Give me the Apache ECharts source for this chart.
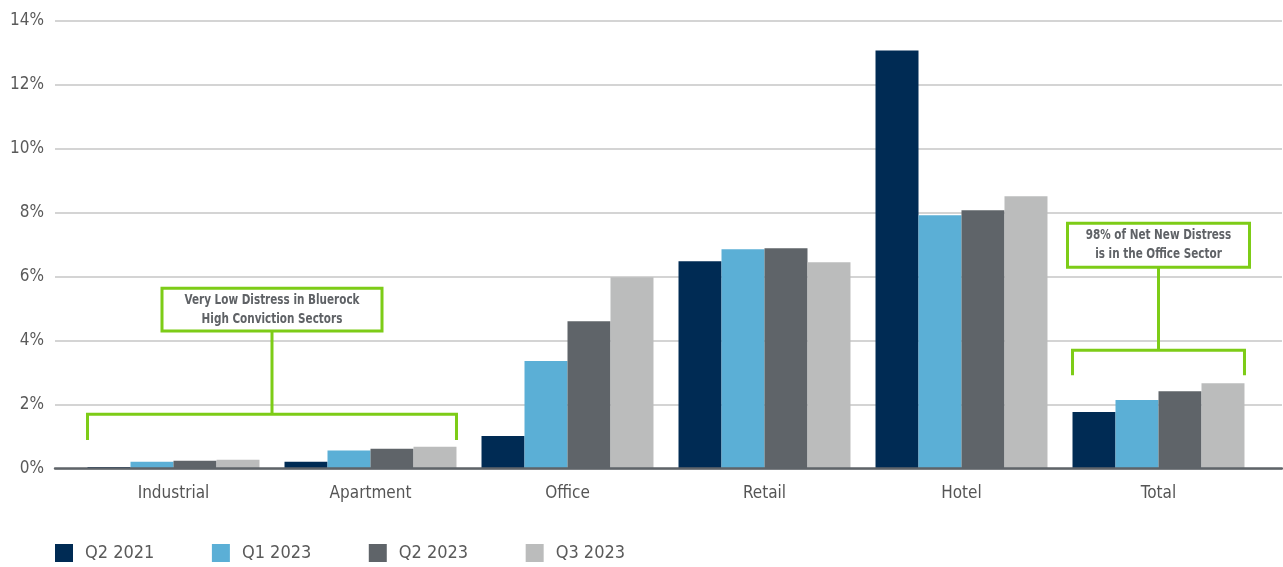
<!DOCTYPE html>
<html>
<head>
<meta charset="utf-8">
<script src="https://cdn.jsdelivr.net/npm/echarts@6/dist/echarts.min.js"></script>
<style>
html,body{margin:0;padding:0;background:#fff;}
#c{width:1283px;height:567px;}
</style>
</head>
<body>
<div id="c"></div>
<script>
const categories = ['Industrial', 'Apartment', 'Office', 'Retail', 'Hotel', 'Total'];
const seriesNames = ['Q2 2021', 'Q1 2023', 'Q2 2023', 'Q3 2023'];
const q2_2021 = [0.05, 0.21, 1.02, 6.48, 13.08, 1.77];
const q1_2023 = [0.21, 0.56, 3.36, 6.86, 7.92, 2.14];
const q2_2023 = [0.24, 0.62, 4.61, 6.89, 8.08, 2.42];
const q3_2023 = [0.27, 0.68, 5.98, 6.45, 8.52, 2.67];
const yTicks = [0, 2, 4, 6, 8, 10, 12, 14];
const colors = ['#002B54', '#5BAFD6', '#5F6469', '#BBBCBC'];
const annotations = [
  { text: 'Very Low Distress in Bluerock\nHigh Conviction Sectors', from: 0, to: 1, boxTop: 5.64, boxBottom: 4.30, bracket: 1.70, tick: 0.89, boxWidth: 220 },
  { text: '98% of Net New Distress\nis in the Office Sector', from: 5, to: 5, boxTop: 7.67, boxBottom: 6.30, bracket: 3.70, tick: 2.92, boxWidth: 182 }
];

const FONT = "'Liberation Sans Narrow', 'DejaVu Sans Condensed', sans-serif";
const GREEN = '#7DCC17';
const catGap = 0.127;

const chart = echarts.init(document.getElementById('c'));
const allData = [q2_2021, q1_2023, q2_2023, q3_2023];

chart.setOption({
  animation: false,
  color: colors,
  textStyle: { fontFamily: FONT },
  legend: {
    left: 50, top: 539,
    itemWidth: 18, itemHeight: 18, itemGap: 57.5,
    icon: 'rect',
    textStyle: { fontSize: 18, color: '#5a5a5a', fontFamily: FONT, padding: [0, 0, 0, 7] },
    data: seriesNames
  },
  grid: [
    { left: 55, right: 1, top: 21, bottom: 98.5 },
    { left: 75, right: 26, top: 21, bottom: 98.5 }
  ],
  xAxis: [
    { type: 'category', gridIndex: 0, data: categories, axisLabel: { show: false }, axisTick: { show: false },
      axisLine: { lineStyle: { color: '#5F6469', width: 2.5 } }, z: 10 },
    { type: 'category', gridIndex: 1, data: categories, axisTick: { show: false }, axisLine: { show: false },
      axisLabel: { fontSize: 17, color: '#555', fontFamily: FONT, margin: 17 } }
  ],
  yAxis: [
    { type: 'value', gridIndex: 0, min: yTicks[0], max: yTicks[yTicks.length - 1], interval: 2,
      axisLine: { show: false }, axisTick: { show: false },
      axisLabel: { formatter: '{value}%', fontSize: 17, color: '#5a5a5a', fontFamily: FONT, margin: 11 },
      splitLine: { lineStyle: { color: '#c6c6c6', width: 1.5 } } },
    { type: 'value', gridIndex: 1, min: yTicks[0], max: yTicks[yTicks.length - 1], interval: 2, show: false,
      splitLine: { show: false } }
  ],
  series: seriesNames.map((name, i) => ({
    name, type: 'bar', xAxisIndex: 1, yAxisIndex: 1,
    data: allData[i], barGap: '0%', barCategoryGap: (catGap * 100) + '%',
    itemStyle: { color: colors[i] }
  }))
});

function px(cat, val) {
  return chart.convertToPixel({ xAxisIndex: 1, yAxisIndex: 1 }, [cat, val]);
}
const band = px(1, 0)[0] - px(0, 0)[0];
const half = band * (1 - catGap) / 2;
const graphics = [];
annotations.forEach(a => {
  const xl = px(a.from, 0)[0] - half;
  const xr = px(a.to, 0)[0] + half;
  const xm = (xl + xr) / 2;
  const yb = px(0, a.bracket)[1];
  const yt = px(0, a.tick)[1];
  const bt = px(0, a.boxTop)[1];
  const bb = px(0, a.boxBottom)[1];
  const ls = { stroke: GREEN, lineWidth: 3, fill: null };
  graphics.push({ type: 'polyline', shape: { points: [[xl, yt], [xl, yb], [xr, yb], [xr, yt]] }, style: ls, z: 20 });
  graphics.push({ type: 'line', shape: { x1: xm, y1: bb, x2: xm, y2: yb }, style: ls, z: 20 });
  graphics.push({ type: 'rect', shape: { x: xm - a.boxWidth / 2, y: bt, width: a.boxWidth, height: bb - bt },
    style: { stroke: GREEN, lineWidth: 3, fill: '#fff' }, z: 21 });
  graphics.push({ type: 'text', x: xm, y: (bt + bb) / 2, z: 22, scaleX: 0.8,
    style: { text: a.text, align: 'center', verticalAlign: 'middle', fontSize: 14.5, fontWeight: 'bold',
      fill: '#5f6266', fontFamily: FONT, lineHeight: 19 } });
});
chart.setOption({ graphic: graphics });
</script>
</body>
</html>
